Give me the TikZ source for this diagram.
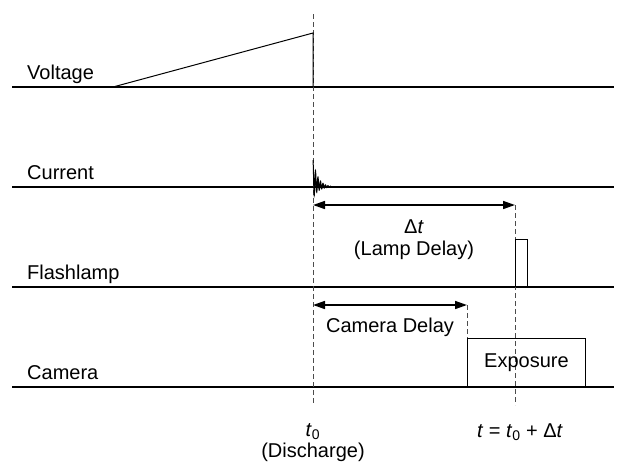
\documentclass[tikz,border=0pt]{standalone}
\usepackage{fontspec}
\setmainfont{Liberation Sans}
\usetikzlibrary{arrows.meta}
\begin{document}
\begin{tikzpicture}[x=1pt,y=-1pt,
  every node/.style={font=\fontsize{20}{22}\selectfont, inner sep=0pt},
  base/.style={line width=1.1pt, black},
  guide/.style={line width=1pt, gray!60!black, dash pattern=on 5pt off 3pt},
  sig/.style={line width=1pt, black},
  dim/.style={line width=1.6pt, {Triangle[length=12pt,width=8pt]}-{Triangle[length=12pt,width=8pt]}},
  lbl/.style={anchor=base west}]
\useasboundingbox (0,0) rectangle (619,464);
% baselines
\coordinate (vL) at (12,87);  \coordinate (vR) at (614,87);
\coordinate (cL) at (12,187); \coordinate (cR) at (614,187);
\coordinate (fL) at (12,287); \coordinate (fR) at (614,287);
\coordinate (kL) at (12,387); \coordinate (kR) at (614,387);
\draw[base] (vL) -- (vR);
\draw[base] (cL) -- (cR);
\draw[base] (fL) -- (fR);
\draw[base] (kL) -- (kR);
% labels
\node[lbl] (lv) at (27,79) {Voltage};
\node[lbl] (lc) at (27,179) {Current};
\node[lbl] (lf) at (27,279) {Flashlamp};
\node[lbl] (lk) at (27,379) {Camera};
% guides
\coordinate (g0t) at (313,14);  \coordinate (g0b) at (313,405);
\coordinate (g1t) at (515,205); \coordinate (g1b) at (515,405);
\coordinate (g2t) at (467,305); \coordinate (g2b) at (467,387);
\draw[guide] (g0t) -- (g0b);
\draw[guide] (g1t) -- (g1b);
\draw[guide] (g2t) -- (g2b);
% voltage ramp
\coordinate (r0) at (113,87); \coordinate (r1) at (313,33); \coordinate (r2) at (313,87);
\draw[sig] (r0) -- (r1) -- (r2);
% current ringing
\draw[sig, line width=1pt] plot[domain=0:22, samples=200] ({313+\x}, {187-exp(-\x/5)*(19*cos(144*\x)+8)});
% flashlamp pulse
\coordinate (p0) at (515,287); \coordinate (p1) at (515,239); \coordinate (p2) at (527,239); \coordinate (p3) at (527,287);
\draw[line width=0.9pt] (p0) -- (p1) -- (p2) -- (p3);
% exposure box
\node[draw, line width=0.9pt, minimum width=118pt, minimum height=48pt, anchor=south west] (exp) at (467,387) {Exposure};
% dimension arrows
\coordinate (a0) at (313,205); \coordinate (a1) at (515,205);
\draw[dim] (a0) -- (a1);
\node (dt) at (414,227) {Δ\textit{t}};
\node (ld) at (414,250) {(Lamp Delay)};
\coordinate (b0) at (313,305); \coordinate (b1) at (467,305);
\draw[dim] (b0) -- (b1);
\node (cd) at (390,327) {Camera Delay};
% time labels
\node (t0) at (313,432) {\textit{t}\textsubscript{0}};
\node (dis) at (313,452) {(Discharge)};
\node (tt) at (520,432) {\textit{t} = \textit{t}\textsubscript{0} + Δ\textit{t}};
\end{tikzpicture}
\end{document}
